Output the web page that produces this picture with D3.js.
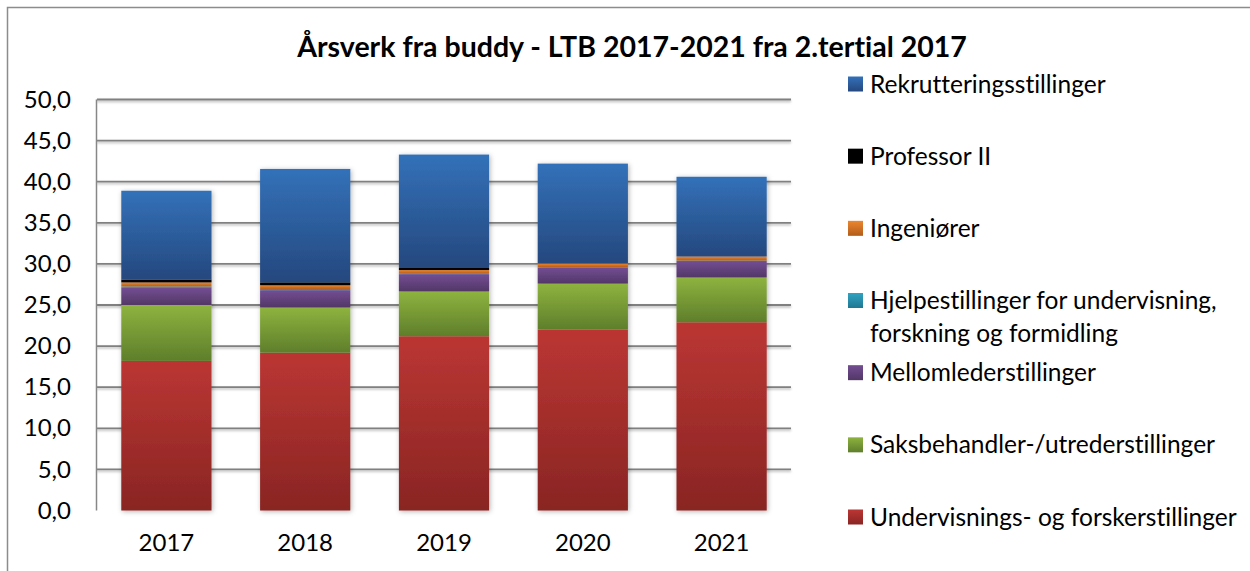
<!DOCTYPE html>
<html>
<head>
<meta charset="utf-8">
<script src="https://cdn.jsdelivr.net/npm/d3@7"></script>
<style>
  html, body { margin: 0; padding: 0; background: #fff; }
  svg { display: block; font-family: Lato, 'Open Sans', sans-serif; font-variant-ligatures: none; }
</style>
</head>
<body>
<svg id="chart" width="1250" height="571"></svg>
<script>
// ======================= DATA ===============================
const years = ['2017', '2018', '2019', '2020', '2021'];

const undervisning  = [18.2, 19.2, 21.2, 22.0, 22.9];
const saksbehandler = [6.8, 5.5, 5.45, 5.6, 5.45];
const mellomleder   = [2.1, 2.1, 2.1, 1.95, 2.0];
const hjelpe        = [0.15, 0.15, 0.05, 0.05, 0.05];
const ingeniorer    = [0.5, 0.45, 0.45, 0.45, 0.5];
const professor     = [0.35, 0.35, 0.25, 0, 0];
const rekruttering  = [10.8, 13.8, 13.8, 12.15, 9.7];

const yTicks = [0, 5, 10, 15, 20, 25, 30, 35, 40, 45, 50];

// series, bottom to top in the stack
const seriesNames = [
    'Undervisnings- og forskerstillinger',
    'Saksbehandler-/utrederstillinger',
    'Mellomlederstillinger',
    'Hjelpestillinger for undervisning, forskning og formidling',
    'Ingeniører',
    'Professor II',
    'Rekrutteringsstillinger'
];
const seriesValues = [undervisning, saksbehandler, mellomleder, hjelpe, ingeniorer, professor, rekruttering];

// gradient top / bottom colours for each series
const seriesColors = [
    ['#bb3633', '#892523'],
    ['#8eb33f', '#5f7e2b'],
    ['#734e93', '#533766'],
    ['#30a3c2', '#1f7892'],
    ['#ec852e', '#b25d1b'],
    ['#000000', '#000000'],
    ['#3371b9', '#25487e']
];

// ======================= SETUP ===============================
const width = 1250;
const height = 571;
const plot = { left: 97, right: 791, top: 99.5, bottom: 510.5 };

const svg = d3.select('#chart');
const defs = svg.append('defs');

seriesColors.forEach((c, i) => {
    const g = defs.append('linearGradient')
        .attr('id', `grad-${i}`)
        .attr('x1', 0).attr('y1', 0).attr('x2', 0).attr('y2', 1);
    g.append('stop').attr('offset', '0%').attr('stop-color', c[0]);
    g.append('stop').attr('offset', '100%').attr('stop-color', c[1]);
});

const shadow = defs.append('filter')
    .attr('id', 'shadow')
    .attr('x', '-20%').attr('y', '-20%').attr('width', '140%').attr('height', '140%');
shadow.append('feDropShadow')
    .attr('dx', 1).attr('dy', 1).attr('stdDeviation', 2.5)
    .attr('flood-color', '#000').attr('flood-opacity', 0.3);

const lineShadow = defs.append('filter')
    .attr('id', 'lineShadow')
    .attr('x', '-5%').attr('y', '-100%').attr('width', '110%').attr('height', '400%');
lineShadow.append('feDropShadow')
    .attr('dx', 0).attr('dy', 1.5).attr('stdDeviation', 0.8)
    .attr('flood-color', '#000').attr('flood-opacity', 0.3);

// outer frame of the chart
svg.append('rect')
    .attr('x', 7.5).attr('y', 7.5)
    .attr('width', width + 10).attr('height', height + 10)
    .attr('fill', 'none')
    .attr('stroke', '#8c8c8c')
    .attr('stroke-width', 1.5);

// ======================= SCALES ===============================
const xScale = d3.scaleBand()
    .domain(years)
    .range([plot.left, plot.right])
    .paddingInner(0.35)
    .paddingOuter(0.175);

const yScale = d3.scaleLinear()
    .domain([0, 50])
    .range([plot.bottom, plot.top]);

const nbFormat = d3.formatLocale({ decimal: ',', thousands: ' ', grouping: [3], currency: ['', ' kr'] }).format('.1f');

// ======================= GRID / Y-AXIS ===============================
svg.append('g')
    .attr('filter', 'url(#lineShadow)')
    .selectAll('line')
    .data(yTicks.filter(t => t > 0))
    .enter()
    .append('line')
    .attr('x1', plot.left)
    .attr('x2', plot.right)
    .attr('y1', d => yScale(d))
    .attr('y2', d => yScale(d))
    .attr('stroke', '#808080')
    .attr('stroke-width', 1.8);

// plot area left edge
svg.append('line')
    .attr('x1', plot.left - 0.5).attr('x2', plot.left - 0.5)
    .attr('y1', plot.top).attr('y2', plot.bottom)
    .attr('stroke', '#878787').attr('stroke-width', 1.5);

const yAxis = svg.append('g')
    .attr('transform', `translate(${plot.left}, 0)`)
    .call(d3.axisLeft(yScale).tickValues(yTicks).tickFormat(nbFormat).tickSize(0).tickPadding(26));
yAxis.select('.domain').remove();
yAxis.selectAll('text')
    .attr('font-family', 'Lato, sans-serif')
    .attr('font-size', 24)
    .attr('fill', '#000');

// ======================= BARS ===============================
const stackData = years.map((y, i) => {
    const row = { year: y };
    seriesNames.forEach((name, s) => { row[name] = seriesValues[s][i]; });
    return row;
});
const stacked = d3.stack().keys(seriesNames)(stackData);

const bars = svg.append('g').attr('class', 'bars').attr('filter', 'url(#shadow)');
stacked.forEach((layer, s) => {
    bars.append('g')
        .attr('fill', `url(#grad-${s})`)
        .selectAll('rect')
        .data(layer.filter(d => d[1] - d[0] > 0))
        .enter()
        .append('rect')
        .attr('x', d => xScale(d.data.year))
        .attr('width', xScale.bandwidth())
        .attr('y', d => yScale(d[1]))
        .attr('height', d => yScale(d[0]) - yScale(d[1]));
});

// baseline drawn on top
svg.append('line')
    .attr('x1', plot.left - 1).attr('x2', plot.right)
    .attr('y1', plot.bottom).attr('y2', plot.bottom)
    .attr('stroke', '#878787').attr('stroke-width', 1.5)
    .attr('filter', 'url(#lineShadow)');

// ======================= X-AXIS ===============================
const xAxis = svg.append('g')
    .attr('transform', `translate(0, ${plot.bottom})`)
    .call(d3.axisBottom(xScale).tickSize(0).tickPadding(23));
xAxis.select('.domain').remove();
xAxis.selectAll('text')
    .attr('font-family', 'Lato, sans-serif')
    .attr('font-size', 24)
    .attr('fill', '#000');

// ======================= TITLE ===============================
svg.append('text')
    .text('Årsverk fra buddy - LTB 2017-2021 fra 2.tertial 2017')
    .attr('x', 632)
    .attr('y', 57)
    .attr('text-anchor', 'middle')
    .attr('font-weight', 'bold')
    .attr('font-size', 28.5)
    .attr('fill', '#000');

// ======================= LEGEND ===============================
// legend lists the series top of stack first
const legendOrder = d3.range(seriesNames.length).reverse();
const legendLines = {
    3: ['Hjelpestillinger for undervisning,', 'forskning og formidling']
};
const legendY = d3.scaleLinear().domain([0, 6]).range([84, 517]);

const legend = svg.append('g').attr('class', 'legend');
legendOrder.forEach((s, row) => {
    const cy = legendY(row);
    legend.append('rect')
        .attr('x', 848).attr('y', cy - 7.5)
        .attr('width', 15).attr('height', 15)
        .attr('fill', `url(#grad-${s})`);
    const lines = legendLines[s] || [seriesNames[s]];
    const t = legend.append('text')
        .attr('x', 870)
        .attr('y', cy + 8.5)
        .attr('font-size', 24.5)
        .attr('fill', '#000');
    lines.forEach((ln, k) => {
        t.append('tspan')
            .attr('x', 870)
            .attr('dy', k === 0 ? 0 : 33)
            .text(ln);
    });
});
</script>
</body>
</html>
